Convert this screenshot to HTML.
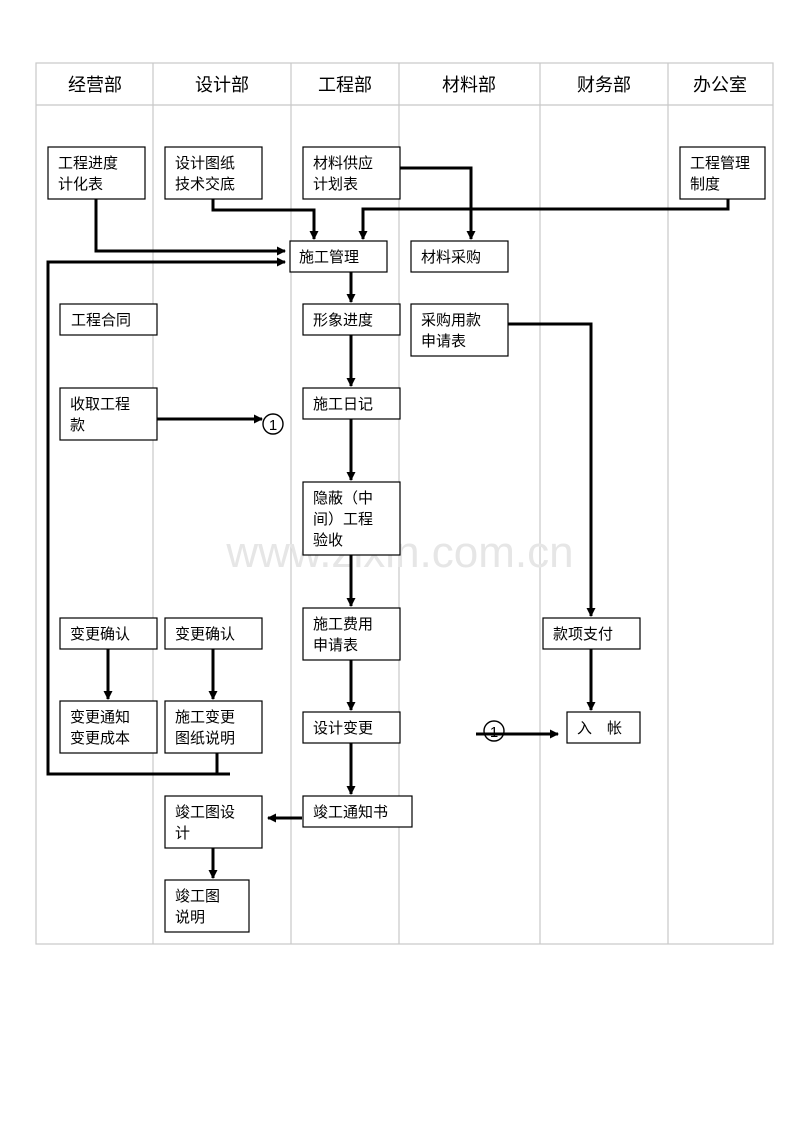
<!DOCTYPE html>
<html><head><meta charset="utf-8"><style>
body{margin:0;background:#fff}
svg text{font-family:"Liberation Sans","WenQuanYi Zen Hei","Noto Sans CJK SC",sans-serif;fill:#000}
</style></head><body>
<svg width="800" height="1132" viewBox="0 0 800 1132" xmlns="http://www.w3.org/2000/svg">
<defs><marker id="a" markerWidth="9" markerHeight="9" refX="8" refY="4.5" orient="auto" markerUnits="userSpaceOnUse"><path d="M0,0 L9,4.5 L0,9 z" fill="#000"/></marker></defs>
<g stroke="#c8c8c8" stroke-width="1.2" fill="none">
<rect x="36" y="63" width="737" height="881"/>
<line x1="36" y1="105" x2="773" y2="105"/>
<line x1="153" y1="63" x2="153" y2="944"/><line x1="291" y1="63" x2="291" y2="944"/>
<line x1="399" y1="63" x2="399" y2="944"/><line x1="540" y1="63" x2="540" y2="944"/>
<line x1="668" y1="63" x2="668" y2="944"/>
</g>
<g font-size="18" text-anchor="middle">
<text x="95" y="91">经营部</text><text x="222" y="91">设计部</text><text x="345" y="91">工程部</text>
<text x="469" y="91">材料部</text><text x="604" y="91">财务部</text><text x="720" y="91">办公室</text>
</g>
<text x="400" y="567" font-size="44" text-anchor="middle" style="fill:#e6e6e6">www.zixin.com.cn</text>
<g stroke="#000" stroke-width="3" fill="none">
<polyline points="96,199 96,251 285,251" marker-end="url(#a)"/>
<polyline points="213,199 213,210 314,210 314,239" marker-end="url(#a)"/>
<polyline points="400,168 471,168 471,239" marker-end="url(#a)"/>
<polyline points="728,199 728,209 363,209 363,239" marker-end="url(#a)"/>
<polyline points="230,774 48,774 48,262 285,262" marker-end="url(#a)"/>
<line x1="217" y1="753" x2="217" y2="774"/>
<line x1="351" y1="272" x2="351" y2="302" marker-end="url(#a)"/>
<line x1="351" y1="335" x2="351" y2="386" marker-end="url(#a)"/>
<line x1="351" y1="419" x2="351" y2="480" marker-end="url(#a)"/>
<line x1="351" y1="555" x2="351" y2="606" marker-end="url(#a)"/>
<line x1="351" y1="660" x2="351" y2="710" marker-end="url(#a)"/>
<line x1="351" y1="743" x2="351" y2="794" marker-end="url(#a)"/>
<line x1="157" y1="419" x2="262" y2="419" marker-end="url(#a)"/>
<polyline points="508,324 591,324 591,616" marker-end="url(#a)"/>
<line x1="591" y1="649" x2="591" y2="710" marker-end="url(#a)"/>
<line x1="476" y1="734" x2="558" y2="734" marker-end="url(#a)"/>
<line x1="302" y1="818" x2="268" y2="818" marker-end="url(#a)"/>
<line x1="108" y1="649" x2="108" y2="699" marker-end="url(#a)"/>
<line x1="213" y1="649" x2="213" y2="699" marker-end="url(#a)"/>
<line x1="213" y1="848" x2="213" y2="878" marker-end="url(#a)"/>
</g>
<g stroke="#000" stroke-width="1.2" fill="#fff">
<rect x="48" y="147" width="97" height="52"/><rect x="165" y="147" width="97" height="52"/>
<rect x="303" y="147" width="97" height="52"/><rect x="680" y="147" width="85" height="52"/>
<rect x="290" y="241" width="97" height="31"/><rect x="411" y="241" width="97" height="31"/>
<rect x="60" y="304" width="97" height="31"/><rect x="303" y="304" width="97" height="31"/>
<rect x="411" y="304" width="97" height="52"/><rect x="60" y="388" width="97" height="52"/>
<rect x="303" y="388" width="97" height="31"/><rect x="303" y="482" width="97" height="73"/>
<rect x="60" y="618" width="97" height="31"/><rect x="165" y="618" width="97" height="31"/>
<rect x="303" y="608" width="97" height="52"/><rect x="543" y="618" width="97" height="31"/>
<rect x="60" y="701" width="97" height="52"/><rect x="165" y="701" width="97" height="52"/>
<rect x="303" y="712" width="97" height="31"/><rect x="567" y="712" width="73" height="31"/>
<rect x="165" y="796" width="97" height="52"/><rect x="303" y="796" width="109" height="31"/>
<rect x="165" y="880" width="84" height="52"/>
</g>
<g font-size="15">
<text x="58" y="168">工程进度</text><text x="58" y="189">计化表</text>
<text x="175" y="168">设计图纸</text><text x="175" y="189">技术交底</text>
<text x="313" y="168">材料供应</text><text x="313" y="189">计划表</text>
<text x="690" y="168">工程管理</text><text x="690" y="189">制度</text>
<text x="299" y="262">施工管理</text><text x="421" y="262">材料采购</text>
<text x="71" y="325">工程合同</text><text x="313" y="325">形象进度</text>
<text x="421" y="325">采购用款</text><text x="421" y="346">申请表</text>
<text x="70" y="409">收取工程</text><text x="70" y="430">款</text>
<text x="313" y="409">施工日记</text>
<text x="313" y="503">隐蔽（中</text><text x="313" y="524">间）工程</text><text x="313" y="545">验收</text>
<text x="70" y="639">变更确认</text><text x="175" y="639">变更确认</text>
<text x="313" y="629">施工费用</text><text x="313" y="650">申请表</text>
<text x="553" y="639">款项支付</text>
<text x="70" y="722">变更通知</text><text x="70" y="743">变更成本</text>
<text x="175" y="722">施工变更</text><text x="175" y="743">图纸说明</text>
<text x="313" y="733">设计变更</text><text x="577" y="733">入　帐</text>
<text x="175" y="817">竣工图设</text><text x="175" y="838">计</text>
<text x="313" y="817">竣工通知书</text>
<text x="175" y="901">竣工图</text><text x="175" y="922">说明</text>
</g>
<g fill="none" stroke="#000" stroke-width="1.4"><circle cx="273" cy="424" r="10"/><circle cx="494" cy="731" r="10"/></g>
<g font-size="15" text-anchor="middle"><text x="273" y="430">1</text><text x="494" y="737">1</text></g>
</svg>
</body></html>
